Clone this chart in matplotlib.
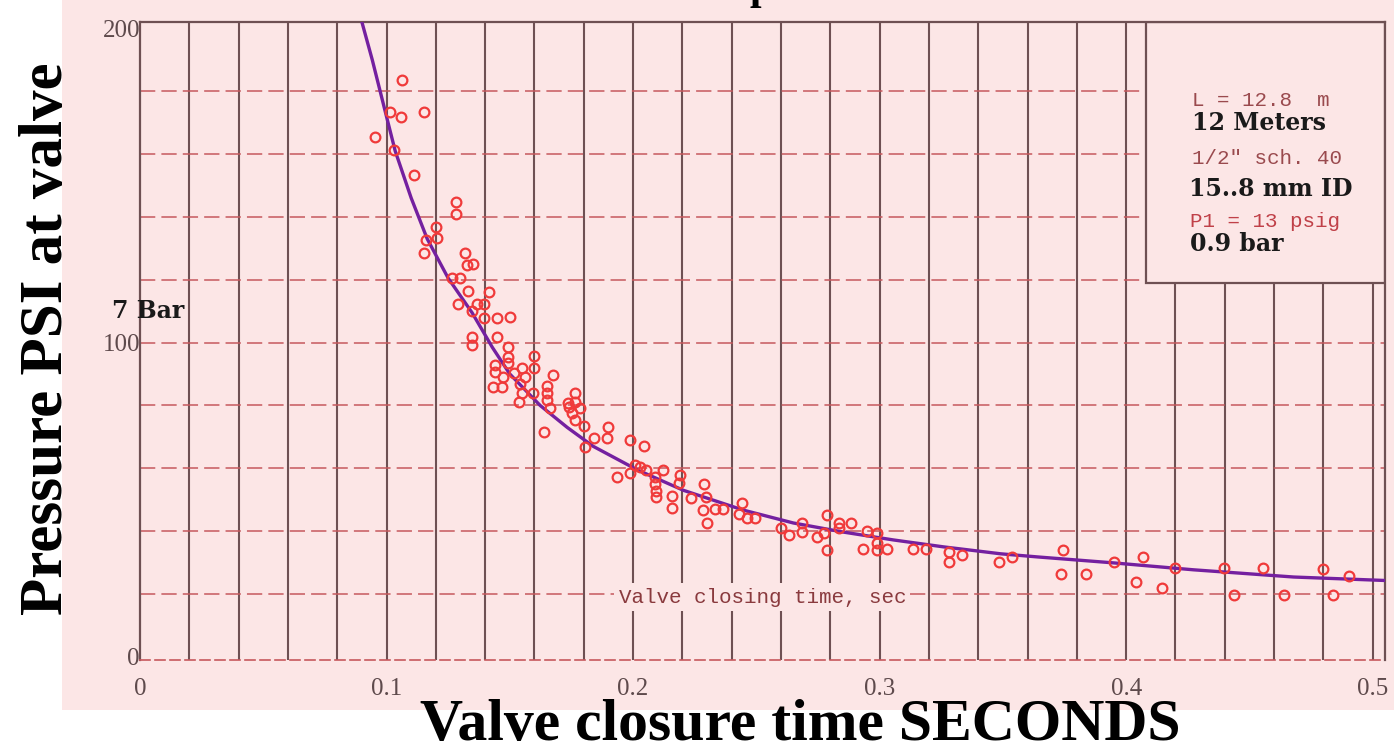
import numpy as np
import matplotlib
matplotlib.use("Agg")
import matplotlib.pyplot as plt
from matplotlib.patches import Rectangle

# ---- data ----
x_points = [0.1063, 0.1015, 0.1060, 0.1150, 0.0954, 0.1031, 0.1110, 0.1280, 0.1280, 0.1200,
            0.1160, 0.1205, 0.1153, 0.1320, 0.1327, 0.1350, 0.1266, 0.1300, 0.1330, 0.1416,
            0.1290, 0.1368, 0.1396, 0.1347, 0.1396, 0.1449, 0.1500, 0.1347, 0.1347, 0.1450,
            0.1494, 0.1494, 0.1494, 0.1600, 0.1600, 0.1440, 0.1440, 0.1473, 0.1433, 0.1469,
            0.1518, 0.1550, 0.1563, 0.1542, 0.1550, 0.1538, 0.1595, 0.1676, 0.1650, 0.1650,
            0.1650, 0.1664, 0.1737, 0.1640, 0.1765, 0.1765, 0.1740, 0.1786, 0.1753, 0.1765,
            0.1800, 0.1900, 0.1895, 0.1840, 0.1806, 0.1989, 0.2045, 0.2009, 0.2029, 0.1989,
            0.1936, 0.2054, 0.2090, 0.2123, 0.2090, 0.2190, 0.2187, 0.2289, 0.2094, 0.2094,
            0.2159, 0.2159, 0.2236, 0.2297, 0.2285, 0.2300, 0.2334, 0.2366, 0.2443, 0.2431,
            0.2463, 0.2496, 0.2600, 0.2634, 0.2687, 0.2687, 0.2747, 0.2788, 0.2776, 0.2788,
            0.2837, 0.2837, 0.2885, 0.2950, 0.2934, 0.2990, 0.2990, 0.2990, 0.3032, 0.3137,
            0.3190, 0.3283, 0.3280, 0.3336, 0.3486, 0.3539, 0.3742, 0.3734, 0.3839, 0.3949,
            0.4067, 0.4038, 0.4144, 0.4200, 0.4395, 0.4436, 0.4554, 0.4639, 0.4800, 0.4838,
            0.4903]
y_points = [183.5, 173.3, 171.7, 173.3, 165.3, 161.2, 153.3, 144.7, 140.9, 136.7,
            132.6, 133.2, 128.5, 128.5, 124.6, 125.0, 120.5, 120.5, 116.4, 116.1,
            112.2, 112.2, 112.2, 110.0, 107.8, 107.8, 108.1, 101.7, 99.2, 101.7,
            98.6, 95.4, 93.5, 95.7, 91.9, 92.8, 90.6, 89.0, 85.9, 85.9,
            90.3, 91.9, 89.0, 86.8, 83.9, 81.1, 83.9, 89.7, 86.2, 83.9,
            81.7, 79.2, 80.8, 71.5, 83.9, 81.1, 79.5, 79.2, 77.6, 75.4,
            73.4, 73.1, 69.6, 69.6, 66.8, 69.0, 67.1, 61.0, 60.4, 58.5,
            57.2, 59.5, 57.2, 59.5, 55.0, 57.9, 55.3, 55.0, 52.8, 50.9,
            51.2, 47.4, 50.6, 50.9, 46.7, 42.6, 47.1, 47.1, 49.0, 45.5,
            44.2, 44.2, 41.0, 38.8, 42.6, 39.7, 38.2, 45.2, 39.4, 34.0,
            42.6, 41.0, 42.6, 40.1, 34.3, 39.4, 36.2, 34.0, 34.3, 34.3,
            34.3, 33.4, 30.2, 32.4, 30.2, 31.8, 34.0, 26.4, 26.4, 30.2,
            31.8, 23.8, 21.9, 28.3, 28.3, 19.7, 28.3, 19.7, 28.0, 19.7,
            25.8]

curve_x = [0.0900, 0.0942, 0.0990, 0.1035, 0.1100, 0.1165, 0.1250, 0.1347, 0.1429, 0.1500,
           0.1623, 0.1733, 0.1838, 0.2017, 0.2204, 0.2447, 0.2650, 0.2853, 0.3056, 0.3259,
           0.3490, 0.3640, 0.3949, 0.4273, 0.4680, 0.5050]
curve_y = [202.0, 190.0, 175.0, 161.0, 146.0, 133.0, 120.5, 109.5, 98.5, 90.0,
           80.0, 73.0, 67.0, 59.5, 53.0, 46.7, 42.6, 39.7, 37.2, 35.0,
           32.8, 31.8, 29.9, 27.7, 25.4, 24.3]

x_ticks = [0, 0.1, 0.2, 0.3, 0.4, 0.5]
x_tick_labels = ["0", "0.1", "0.2", "0.3", "0.4", "0.5"]
y_ticks = [0, 100, 200]
y_tick_labels = ["0", "100", "200"]

PINK = "#fce6e6"
GRID_V = "#6e5053"
GRID_H = "#c6585d"
TICKC = "#5e4a4c"

W, H = 1394, 753
fig = plt.figure(figsize=(W / 100, H / 100), dpi=100)
fig.patch.set_facecolor("white")
# scanned paper area
paper = Rectangle((62 / W, 1 - 710 / H), 1 - 62 / W, 710 / H,
                  transform=fig.transFigure, facecolor=PINK,
                  edgecolor="none", zorder=-10)
fig.add_artist(paper)

ax = fig.add_axes([140 / W, 1 - 660 / H, (1385 - 140) / W, (660 - 22) / H])
ax.set_facecolor(PINK)
ax.set_xlim(0, 0.505)
ax.set_ylim(-1, 202)

# grid
for gx in np.arange(0.02, 0.505, 0.02):
    ax.axvline(gx, color=GRID_V, lw=1.5, zorder=1)
for gy in np.arange(20, 200, 20):
    ax.axhline(gy, color=GRID_H, lw=1.1, ls=(0, (10, 4)), zorder=1)

for s in ["left", "right", "top"]:
    ax.spines[s].set_color(GRID_V)
    ax.spines[s].set_linewidth(1.6)
ax.spines["bottom"].set_color(GRID_H)
ax.spines["bottom"].set_linewidth(1.2)
ax.spines["bottom"].set_linestyle((0, (6, 3)))

ax.set_xticks(x_ticks)
ax.set_xticklabels(x_tick_labels)
ax.set_yticks(y_ticks)
ax.set_yticklabels(y_tick_labels)
ax.tick_params(length=0, colors=TICKC, labelsize=18)
ax.tick_params(axis="x", pad=13)
ax.tick_params(axis="y", pad=0)
for lab in ax.get_xticklabels() + ax.get_yticklabels():
    lab.set_family("Liberation Serif")

# info box (white-out of grid)
ax.add_patch(Rectangle((0.4079, 118.9), 0.505 - 0.4079, 202 - 118.9,
                       facecolor=PINK, edgecolor=GRID_V, lw=1.6, zorder=2))

# data
ax.plot(curve_x, curve_y, color="#7420a0", lw=2.4, zorder=4, clip_on=True)
ax.plot(x_points, y_points, ls="none", marker="o", ms=7, mfc="none",
        mec="#f03a3a", mew=1.6, zorder=5)

# texts inside axes
ax.text(-0.0115, 110, "7 Bar", family="DejaVu Serif", weight="bold",
        fontsize=17, color="#1a1a1a", va="center", ha="left", clip_on=False, zorder=6)
ax.text(0.2524, 19, "Valve closing time, sec", family="Liberation Mono",
        fontsize=15, color="#8a3a3e", va="center", ha="center", zorder=3,
        bbox=dict(facecolor=PINK, edgecolor="none", pad=3))

tx = 0.4269
small = dict(family="Liberation Mono", fontsize=15, va="center", ha="left", zorder=6)
bold = dict(family="DejaVu Serif", weight="bold", fontsize=17, color="#1a1a1a",
            va="center", ha="left", zorder=6)
ax.text(tx, 177, "L = 12.8  m", color="#9a4a4e", **small)
ax.text(tx, 170, "12 Meters", **bold)
ax.text(tx, 158.5, "1/2\" sch. 40", color="#9a4a4e", **small)
ax.text(tx - 0.0015, 149, "15..8 mm ID", **bold)
ax.text(tx - 0.0008, 138.5, "P1 = 13 psig", color="#c04048", **small)
ax.text(tx - 0.0008, 131.5, "0.9 bar", **bold)

# axis titles
fig.text(800 / W, 1 - 740 / H, "Valve closure time SECONDS", family="Liberation Serif",
         weight="bold", fontsize=43, color="black", ha="center", va="baseline")
fig.text(47 / W, 1 - 339 / H, "Pressure PSI at valve", family="Liberation Serif",
         weight="bold", fontsize=44, color="black", ha="center", va="center",
         rotation=90)
# cut-off title fragment at the very top
fig.text(761 / W, 1 + 1 / H, "p", family="Liberation Serif", weight="bold",
         fontsize=30, color="black", ha="center", va="baseline")

fig.savefig("out.png", dpi=100, facecolor=fig.get_facecolor())
